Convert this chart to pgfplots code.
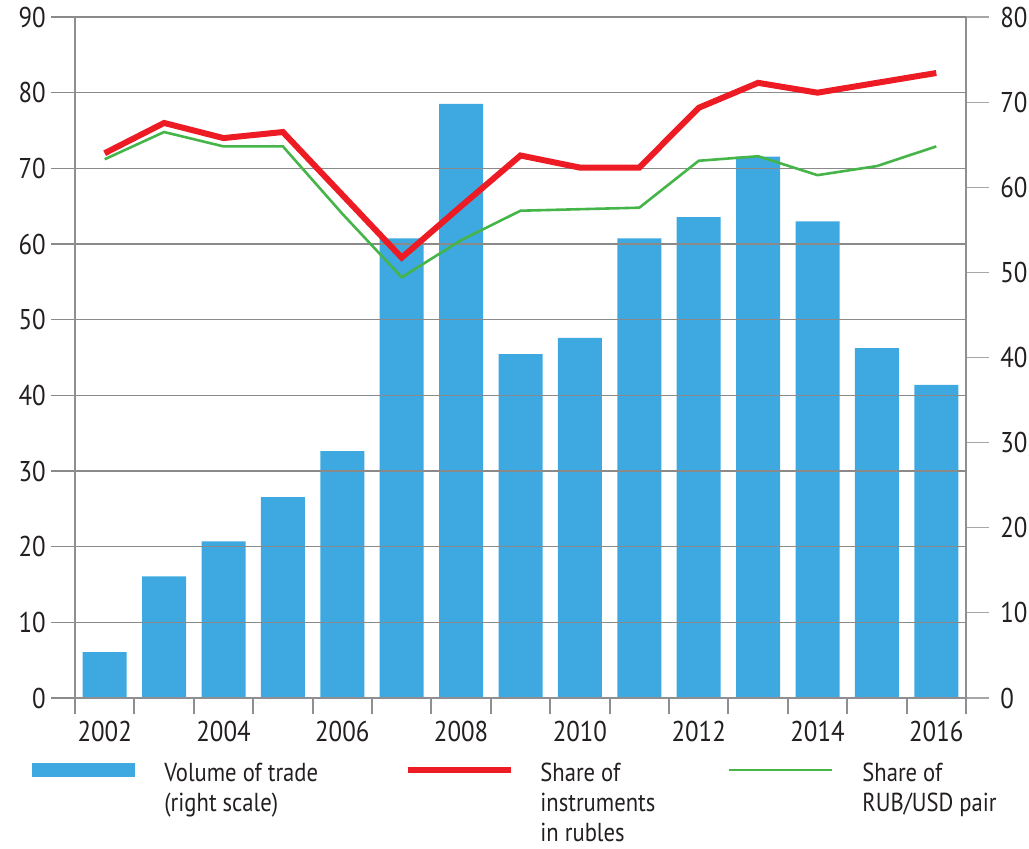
\documentclass[border=0pt]{standalone}
\usepackage{pgfplots}
\pgfplotsset{compat=1.18}
\usepackage{fontspec}
\setmainfont{PT Sans}[FakeStretch=0.87]

\definecolor{barblue}{HTML}{3EA8E0}
\definecolor{linered}{HTML}{ED1C24}
\definecolor{linegreen}{HTML}{45B54A}
\definecolor{gridgray}{HTML}{8A8A8A}
\definecolor{axgray}{HTML}{8E8E93}
\definecolor{rtick}{HTML}{A6A6A6}
\definecolor{txt}{HTML}{231F20}

\begin{document}
\begin{tikzpicture}
\path[use as bounding box] (-37.5pt,-75pt) rectangle (477pt,349pt);
\pgfplotsset{every axis/.append style={scale only axis, width=445.5pt, height=340.5pt,
  xmin=2001.5, xmax=2016.5, font=\fontsize{14.3}{16}\selectfont,
  /pgf/number format/assume math mode=true, tick align=outside,
  tick label style={text=txt}}}

% Volume of trade (right scale)
\begin{axis}[axis x line=none, axis y line*=right, ymin=0, ymax=80,
  ytick={0,10,...,80}, major tick length=11.5pt,
  ytick style={rtick, line width=0.6pt},
  axis line style={axgray, line width=1pt},
  yticklabel style={anchor=west, inner sep=0pt, xshift=5.5pt}]
\addplot[ybar, bar width=22pt, fill=barblue, draw=none] coordinates {
(2002,5.4) (2003,14.3) (2004,18.4) (2005,23.6) (2006,29.0) (2007,54.0)
(2008,69.8) (2009,40.4) (2010,42.3) (2011,54.0) (2012,56.5) (2013,63.6)
(2014,56.0) (2015,41.1) (2016,36.8)};
\end{axis}

% Shares (left scale)
\begin{axis}[axis x line=none, axis y line*=left, ymin=0, ymax=90,
  ytick={0,10,...,90}, ymajorgrids, major tick length=12pt,
  grid style={gridgray, line width=0.65pt},
  ytick style={gridgray, line width=0.65pt},
  axis line style={axgray, line width=1pt},
  yticklabel style={anchor=east, inner sep=0pt, xshift=-2.5pt}]
\addplot[linered, line width=3pt] coordinates {
(2002,72.0) (2003,76.0) (2004,74.0) (2005,74.8) (2006,66.5) (2007,58.2)
(2008,65.0) (2009,71.7) (2010,70.1) (2011,70.1) (2012,78.0) (2013,81.3)
(2014,80.0) (2015,81.3) (2016,82.6)};
\addplot[linegreen, line width=1.3pt] coordinates {
(2002,71.2) (2003,74.8) (2004,72.9) (2005,72.9) (2006,64.0) (2007,55.6)
(2008,60.5) (2009,64.4) (2010,64.6) (2011,64.8) (2012,71.0) (2013,71.6)
(2014,69.1) (2015,70.3) (2016,72.9)};
\end{axis}

% x axis
\begin{axis}[axis y line=none, axis x line*=bottom, ymin=0, ymax=1,
  xtick={2001.5,2002.5,...,2016.5}, xticklabels={},
  major tick length=8pt,
  xtick style={axgray, line width=1pt},
  axis line style={axgray, line width=1pt},
  extra x ticks={2002,2004,...,2016},
  extra x tick labels={2002,2004,2006,2008,2010,2012,2014,2016},
  extra x tick style={major tick length=0pt},
  xticklabel style={anchor=base, inner sep=0pt, yshift=-21.5pt}]
\end{axis}

% legend
\fill[barblue] (-21.5pt,-32.5pt) rectangle (30pt,-39.5pt);
\draw[linered, line width=3pt] (166.5pt,-36pt) -- (218pt,-36pt);
\draw[linegreen, line width=1.3pt] (327pt,-36pt) -- (378.5pt,-36pt);
\begin{scope}[every node/.style={anchor=base west, inner sep=0pt, font=\fontsize{13}{15}\selectfont, text=txt}]
\node at (44.5pt,-41.5pt) {Volume of trade};
\node at (44.5pt,-56.5pt) {(right scale)};
\node at (232.5pt,-41.5pt) {Share of};
\node at (232.5pt,-56.5pt) {instruments};
\node at (232.5pt,-71.5pt) {in rubles};
\node at (393.5pt,-41.5pt) {Share of};
\node at (393.5pt,-56.5pt) {RUB/USD pair};
\end{scope}
\end{tikzpicture}
\end{document}
